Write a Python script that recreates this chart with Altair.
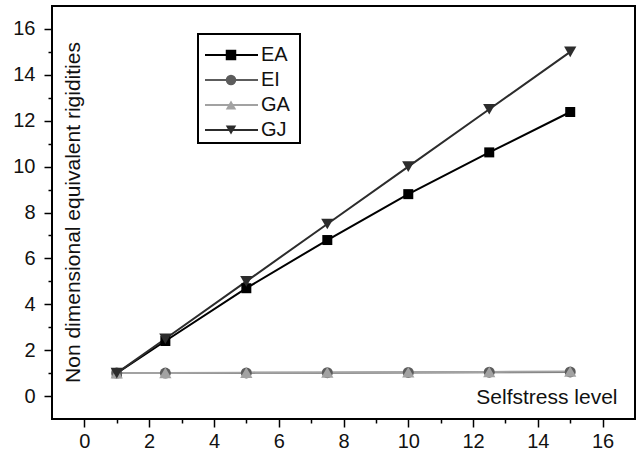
import altair as alt
import pandas as pd

# Selfstress levels (x) and non-dimensional rigidities per series
levels = [1.0, 2.5, 5.0, 7.5, 10.0, 12.5, 15.0]
ea_values = [1.0, 2.4, 4.7, 6.8, 8.8, 10.62, 12.38]
ei_values = [1.0, 1.0, 1.01, 1.02, 1.03, 1.04, 1.05]
ga_values = [1.0, 1.01, 1.02, 1.03, 1.04, 1.05, 1.07]
gj_values = [1.0, 2.5, 5.0, 7.5, 10.0, 12.5, 15.0]

series_names = ["EA", "EI", "GA", "GJ"]
series_colors = ["#000000", "#5c5c5c", "#a2a2a2", "#2c2c2c"]
marker_shapes = ["square", "circle", "triangle-up", "triangle-down"]
marker_sizes = [100, 121, 150, 150]

rows = []
for name, vals in zip(series_names, [ea_values, ei_values, ga_values, gj_values]):
    for lv, v in zip(levels, vals):
        rows.append({"level": lv, "value": v, "series": name})
df = pd.DataFrame(rows)
legend_df = pd.DataFrame({"series": series_names, "row": list(range(len(series_names)))})

FONT = "Liberation Sans"
even = "datum.value % 2 === 0"
val_scale = alt.Scale(domain=[-1, 17], nice=False, zero=False)

x_enc = alt.X(
    "level:Q",
    scale=val_scale,
    axis=alt.Axis(
        values=list(range(0, 17)),
        labelExpr=f"{even} ? datum.label : ''",
        tickSize={"condition": {"test": even, "value": 8}, "value": 4},
        tickWidth=1.5,
        tickColor="black",
        domain=False,
        grid=False,
        labelFont=FONT,
        labelFontSize=20,
        labelColor="#111111",
        labelPadding=4,
        title="Selfstress level",
        titleFont=FONT,
        titleFontSize=21,
        titleFontWeight="normal",
        titleColor="#111111",
        titleX=565,
        titleY=-16,
        titleAlign="right",
        titleBaseline="alphabetic",
        titleAngle=0,
    ),
)
y_enc = alt.Y(
    "value:Q",
    scale=val_scale,
    axis=alt.Axis(
        values=list(range(0, 17)),
        labelExpr=f"{even} ? datum.label : ''",
        tickSize={"condition": {"test": even, "value": 8}, "value": 4},
        tickWidth=1.5,
        tickColor="black",
        domain=False,
        grid=False,
        labelFont=FONT,
        labelFontSize=20,
        labelColor="#111111",
        labelPadding=9,
        title="Non dimensional equivalent rigidities",
        titleFont=FONT,
        titleFontSize=21,
        titleFontWeight="normal",
        titleColor="#111111",
        titleX=27,
        titleY=206,
        titleAngle=-90,
        titleAlign="center",
        titleBaseline="alphabetic",
    ),
)

color_scale = alt.Scale(domain=series_names, range=series_colors)

lines = alt.Chart(df).mark_line(strokeWidth=2).encode(
    x=x_enc,
    y=y_enc,
    color=alt.Color("series:N", scale=color_scale, legend=None),
)

# One marker layer per series, drawn in series order
marker_layers = [
    alt.Chart(df)
    .transform_filter(alt.datum.series == name)
    .mark_point(filled=True, opacity=1, shape=shape, size=size, color=col)
    .encode(x=x_enc, y=y_enc)
    for name, shape, size, col in zip(series_names, marker_shapes, marker_sizes, series_colors)
]
main = alt.layer(lines, *marker_layers)

# Boxed key in the upper-left part of the plot: line + marker + name per row
row_y = alt.Y(
    "row:Q",
    scale=alt.Scale(domain=[0, 3], range=[49, 124], nice=False, zero=False),
    axis=None,
)
key_color = alt.Color("series:N", scale=color_scale, legend=None)

key_box = alt.Chart(pd.DataFrame({"series": ["EA"]})).mark_rect(
    fill="white", stroke="black", strokeWidth=2
).encode(
    x=alt.value(146), x2=alt.value(248), y=alt.value(28), y2=alt.value(137)
)
key_lines = alt.Chart(legend_df).mark_rule(strokeWidth=2).encode(
    x=alt.value(153), x2=alt.value(206), y=row_y, color=key_color
)
key_marks = alt.Chart(legend_df).mark_point(filled=True, opacity=1, size=110).encode(
    x=alt.value(179),
    y=row_y,
    color=key_color,
    shape=alt.Shape(
        "series:N",
        scale=alt.Scale(domain=series_names, range=marker_shapes),
        legend=None,
    ),
)
key_text = alt.Chart(legend_df).mark_text(
    align="left", baseline="middle", font=FONT, fontSize=20, color="#111111"
).encode(x=alt.value(209), y=row_y, text="series:N")

key = alt.layer(key_box, key_lines, key_marks, key_text)

chart = (
    alt.layer(main, key)
    .resolve_scale(y="independent")
    .properties(
        width=583,
        height=413,
        autosize=alt.AutoSizeParams(type="none"),
        padding={"left": 52, "top": 6, "right": 3, "bottom": 37},
        background="white",
    )
    .configure_view(stroke="black", strokeWidth=2)
)

chart.save("out.html", embed_options={"renderer": "svg", "actions": False})
